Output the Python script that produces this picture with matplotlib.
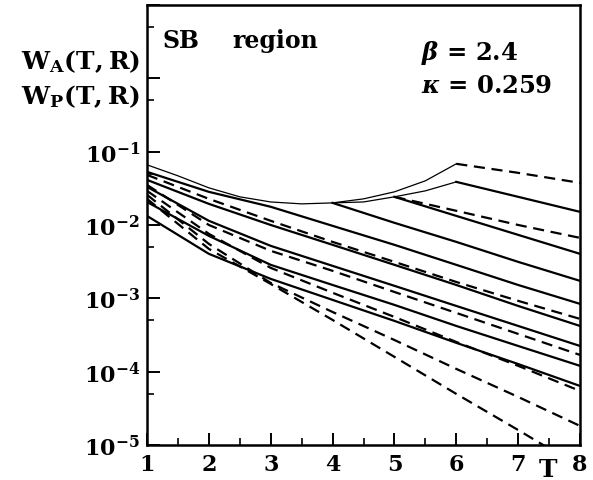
import numpy as np
import matplotlib
matplotlib.use("Agg")
import matplotlib.pyplot as plt
from matplotlib.ticker import FixedLocator, NullFormatter

plt.rcParams['font.family'] = 'DejaVu Serif'
plt.rcParams['font.weight'] = 'bold'
plt.rcParams['mathtext.fontset'] = 'custom'
plt.rcParams['mathtext.rm'] = 'DejaVu Serif:bold'
plt.rcParams['mathtext.bf'] = 'DejaVu Serif:bold'
plt.rcParams['mathtext.it'] = 'DejaVu Serif:italic:bold'

# ----------------------------------------------------------------------
# Data
# ----------------------------------------------------------------------

T_all = [1, 2, 3, 4, 5, 6, 7, 8]

# thin envelope curves
T_env = [1, 1.5, 2, 2.5, 3, 3.5, 4, 4.5, 5, 5.5, 6]
env_up = [0.0661, 0.0468, 0.0321, 0.0242, 0.0206, 0.0194, 0.0200, 0.0227,
          0.0283, 0.0400, 0.0682]
T_env_lo = [4, 4.5, 5, 5.5, 6]
env_lo = [0.0200, 0.0206, 0.0242, 0.0292, 0.0387]

# curves starting at T=6
T_6 = [6, 7, 8]
d1 = [0.0682, 0.0514, 0.0375]
s2 = [0.0387, 0.0242, 0.0151]

# curves starting at T=5
T_5 = [5, 6, 7, 8]
d3 = [0.0242, 0.0156, 0.0100, 0.00667]
s4 = [0.0242, 0.0133, 0.00733, 0.00404]

# curve starting at T=4
T_4 = [4, 5, 6, 7, 8]
s5 = [0.0200, 0.0107, 0.00588, 0.00314, 0.00173]

# curves starting at T=1
s6 = [0.0530, 0.0283, 0.0177, 0.00973, 0.00536, 0.00286, 0.00152, 0.000840]
d7 = [0.0482, 0.0227, 0.0114, 0.00588, 0.00314, 0.00167, 0.000923, 0.000524]
s8 = [0.0412, 0.0194, 0.0100, 0.00536, 0.00286, 0.00152, 0.000787, 0.000420]
s9 = [0.0331, 0.0114, 0.00519, 0.00277, 0.00148, 0.000787, 0.000420, 0.000224]
d10 = [0.0352, 0.0100, 0.00444, 0.00237, 0.00122, 0.000632, 0.000327, 0.000169]
s11 = [0.0206, 0.00710, 0.00286, 0.00152, 0.000813, 0.000420, 0.000224, 0.000120]
d13 = [0.0292, 0.00757, 0.00260, 0.00119, 0.000557, 0.000254, 0.000120, 5.46e-5]
s12 = [0.0133, 0.00404, 0.00184, 0.000951, 0.000492, 0.000247, 0.000127, 6.38e-5]
d14 = [0.0258, 0.00552, 0.00162, 0.000651, 0.000270, 0.000109, 4.52e-5, 1.82e-5]
d15 = [0.0227, 0.00472, 0.00157, 0.000507, 0.000159, 4.97e-5, 1.60e-5, 5.0e-6]

x_ticks = [1, 2, 3, 4, 5, 6, 7, 8]
y_major = [1e-5, 1e-4, 1e-3, 1e-2, 1e-1, 1e0, 1e1]
y_minor = [5e-5, 5e-4, 5e-3, 5e-2, 5e-1, 5e0]
y_labels = [r'$10^{-5}$', r'$10^{-4}$', r'$10^{-3}$',
            r'$10^{-2}$', r'$10^{-1}$', '', '']

# ----------------------------------------------------------------------
# Figure
# ----------------------------------------------------------------------

fig = plt.figure(figsize=(5.93, 4.81), dpi=100)
ax = fig.add_axes([0.2479, 0.0728, 0.7302, 0.9148])

lw = 1.6
dash = (5, 3)

ax.plot(T_env, env_up, '-', color='k', lw=0.9)
ax.plot(T_env_lo, env_lo, '-', color='k', lw=0.9)

solid = [(T_6, s2), (T_5, s4), (T_4, s5),
         (T_all, s6), (T_all, s8), (T_all, s9), (T_all, s11), (T_all, s12)]
dashed = [(T_6, d1), (T_5, d3),
          (T_all, d7), (T_all, d10), (T_all, d13), (T_all, d14), (T_all, d15)]

for t, w in solid:
    ax.plot(t, w, '-', color='k', lw=lw)
for t, w in dashed:
    ax.plot(t, w, '--', color='k', lw=lw, dashes=dash)

ax.set_yscale('log')
ax.set_xlim(1, 8)
ax.set_ylim(1e-5, 10)

ax.xaxis.set_major_locator(FixedLocator(x_ticks))
ax.xaxis.set_minor_locator(FixedLocator([t + 0.5 for t in x_ticks[:-1]]))
ax.set_xticklabels([str(t) for t in x_ticks])
ax.yaxis.set_major_locator(FixedLocator(y_major))
ax.yaxis.set_minor_locator(FixedLocator(y_minor))
ax.yaxis.set_minor_formatter(NullFormatter())
ax.set_yticklabels(y_labels)

ax.tick_params(which='major', direction='in', length=9, width=1.4,
               labelsize=16, pad=5)
ax.tick_params(which='minor', direction='in', length=5, width=1.2)
ax.tick_params(axis='x', pad=6)
for sp in ax.spines.values():
    sp.set_linewidth(1.8)

# ----------------------------------------------------------------------
# Texts
# ----------------------------------------------------------------------

ax.text(0.035, 0.92, 'SB', transform=ax.transAxes,
        fontsize=17, va='center', ha='left')
ax.text(0.198, 0.92, 'region', transform=ax.transAxes,
        fontsize=17, va='center', ha='left')
ax.text(0.633, 0.893, r'$\beta$ = 2.4', transform=ax.transAxes,
        fontsize=17.5, va='center', ha='left')
ax.text(0.633, 0.818, r'$\kappa$ = 0.259', transform=ax.transAxes,
        fontsize=17.5, va='center', ha='left')

fig.text(140 / 593, 1 - 62 / 481, r'$\mathrm{W_A(T,R)}$', fontsize=18,
         ha='right', va='center')
fig.text(140 / 593, 1 - 97 / 481, r'$\mathrm{W_P(T,R)}$', fontsize=18,
         ha='right', va='center')
fig.text(548 / 593, 1 - 470 / 481, 'T', fontsize=18,
         ha='center', va='center')

fig.savefig('out.png', dpi=100)
